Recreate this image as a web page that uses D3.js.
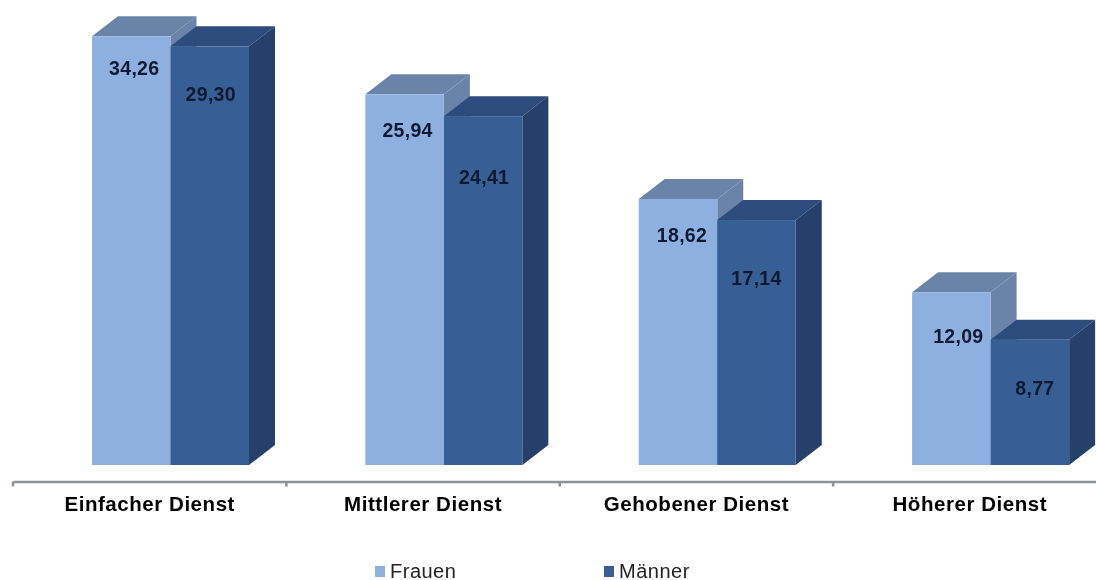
<!DOCTYPE html>
<html>
<head>
<meta charset="utf-8">
<script src="https://cdn.jsdelivr.net/npm/d3@7"></script>
<style>
  html, body { margin: 0; padding: 0; background: #fff; }
  svg { display: block; }
  text { font-family: "Liberation Sans", Arial, sans-serif; filter: blur(0.35px); }
</style>
</head>
<body>
<div id="chart"></div>
<script>
// chart values
var categories = ["Einfacher Dienst", "Mittlerer Dienst", "Gehobener Dienst", "Höherer Dienst"];
var seriesNames = ["Frauen", "Männer"];
var frauen = [34.26, 25.94, 18.62, 12.09];
var maenner = [29.30, 24.41, 17.14, 8.77];

// the value axis of the original stops at 30, the tallest bar gets cut there
var yMax = 30;

var width = 1096, height = 580;
var baseY = 465, topY = 36.3, axisY = 481.5;
var depthX = 26, depthY = 20;

// face colours per series
var colors = {
    Frauen: { front: "#8db0e1", top: "#6a84a9", side: "#6a84a9" },
    "Männer": { front: "#375f96", top: "#2d4b7c", side: "#25406a" }
};

// how far each value label sits below the bar top, and its nudge to the right
var labelDrop = { Frauen: [32, 36, 36, 44], "Männer": [48, 61, 58, 48] };
var labelNudge = { Frauen: [3, 3, 4, 7], "Männer": [1, 1, 0, 5] };

var svg = d3.select("#chart").append("svg")
    .attr("width", width)
    .attr("height", height);

// scales
var xGroup = d3.scaleBand()
    .domain(categories)
    .range([13, 1106.5]);

var xSeries = d3.scaleBand()
    .domain(seriesNames)
    .range([79, 79 + 157]);

var yScale = d3.scaleLinear()
    .domain([0, yMax])
    .range([baseY, topY])
    .clamp(true);

// flat list of bars, drawn left to right so the dark box overlaps the light one
var bars = [];
categories.forEach(function(cat, i) {
    bars.push({ cat: cat, series: "Frauen", value: frauen[i], i: i });
    bars.push({ cat: cat, series: "Männer", value: maenner[i], i: i });
});

var barGroups = svg.selectAll("g.bar")
    .data(bars)
    .enter()
    .append("g")
    .attr("class", "bar");

// right side of the box
barGroups.append("polygon")
    .attr("fill", function(d) { return colors[d.series].side; })
    .attr("points", function(d) {
        var x1 = xGroup(d.cat) + xSeries(d.series) + xSeries.bandwidth();
        var y0 = yScale(d.value);
        return [[x1, y0], [x1 + depthX, y0 - depthY], [x1 + depthX, baseY - depthY], [x1, baseY]].join(" ");
    });

// top of the box
barGroups.append("polygon")
    .attr("fill", function(d) { return colors[d.series].top; })
    .attr("points", function(d) {
        var x0 = xGroup(d.cat) + xSeries(d.series);
        var x1 = x0 + xSeries.bandwidth();
        var y0 = yScale(d.value);
        return [[x0, y0], [x0 + depthX, y0 - depthY], [x1 + depthX, y0 - depthY], [x1, y0]].join(" ");
    });

// front of the box
barGroups.append("rect")
    .attr("x", function(d) { return xGroup(d.cat) + xSeries(d.series); })
    .attr("y", function(d) { return yScale(d.value); })
    .attr("width", xSeries.bandwidth())
    .attr("height", function(d) { return baseY - yScale(d.value); })
    .attr("fill", function(d) { return colors[d.series].front; });

// value labels with german decimal comma
svg.selectAll("text.value")
    .data(bars)
    .enter()
    .append("text")
    .attr("class", "value")
    .attr("x", function(d) {
        return xGroup(d.cat) + xSeries(d.series) + xSeries.bandwidth() / 2 + labelNudge[d.series][d.i];
    })
    .attr("y", function(d) { return yScale(d.value) + labelDrop[d.series][d.i]; })
    .attr("dy", "0.35em")
    .attr("text-anchor", "middle")
    .attr("font-size", 19.5)
    .attr("font-weight", "bold")
    .attr("letter-spacing", 0.3)
    .attr("fill", "#0f1a30")
    .text(function(d) { return d.value.toFixed(2).replace(".", ","); });

// category axis
var axis = svg.append("g")
    .attr("transform", "translate(0," + axisY + ")")
    .call(d3.axisBottom(xGroup).tickSize(0).tickPadding(15));

axis.select(".domain")
    .attr("stroke", "#8c9296")
    .attr("stroke-width", 2.5);

axis.selectAll(".tick text")
    .attr("font-family", null)
    .attr("font-size", 20.5)
    .attr("font-weight", "bold")
    .attr("letter-spacing", 0.55)
    .attr("fill", "#000");

// tick marks sit between the groups
svg.selectAll("line.sep")
    .data(categories)
    .enter()
    .append("line")
    .attr("class", "sep")
    .attr("x1", function(d) { return xGroup(d); })
    .attr("x2", function(d) { return xGroup(d); })
    .attr("y1", axisY)
    .attr("y2", axisY + 5)
    .attr("stroke", "#8c9296")
    .attr("stroke-width", 2.5);

// legend
var legendX = d3.scaleOrdinal().domain(seriesNames).range([375, 604]);

var legend = svg.selectAll("g.legend")
    .data(seriesNames)
    .enter()
    .append("g")
    .attr("class", "legend")
    .attr("transform", function(d) { return "translate(" + legendX(d) + ",566)"; });

legend.append("rect")
    .attr("width", 10)
    .attr("height", 11)
    .attr("fill", function(d) { return colors[d].front; });

legend.append("text")
    .attr("x", 15)
    .attr("y", 12)
    .attr("font-size", 20)
    .attr("letter-spacing", 0.5)
    .attr("fill", "#222")
    .text(function(d) { return d; });
</script>
</body>
</html>
